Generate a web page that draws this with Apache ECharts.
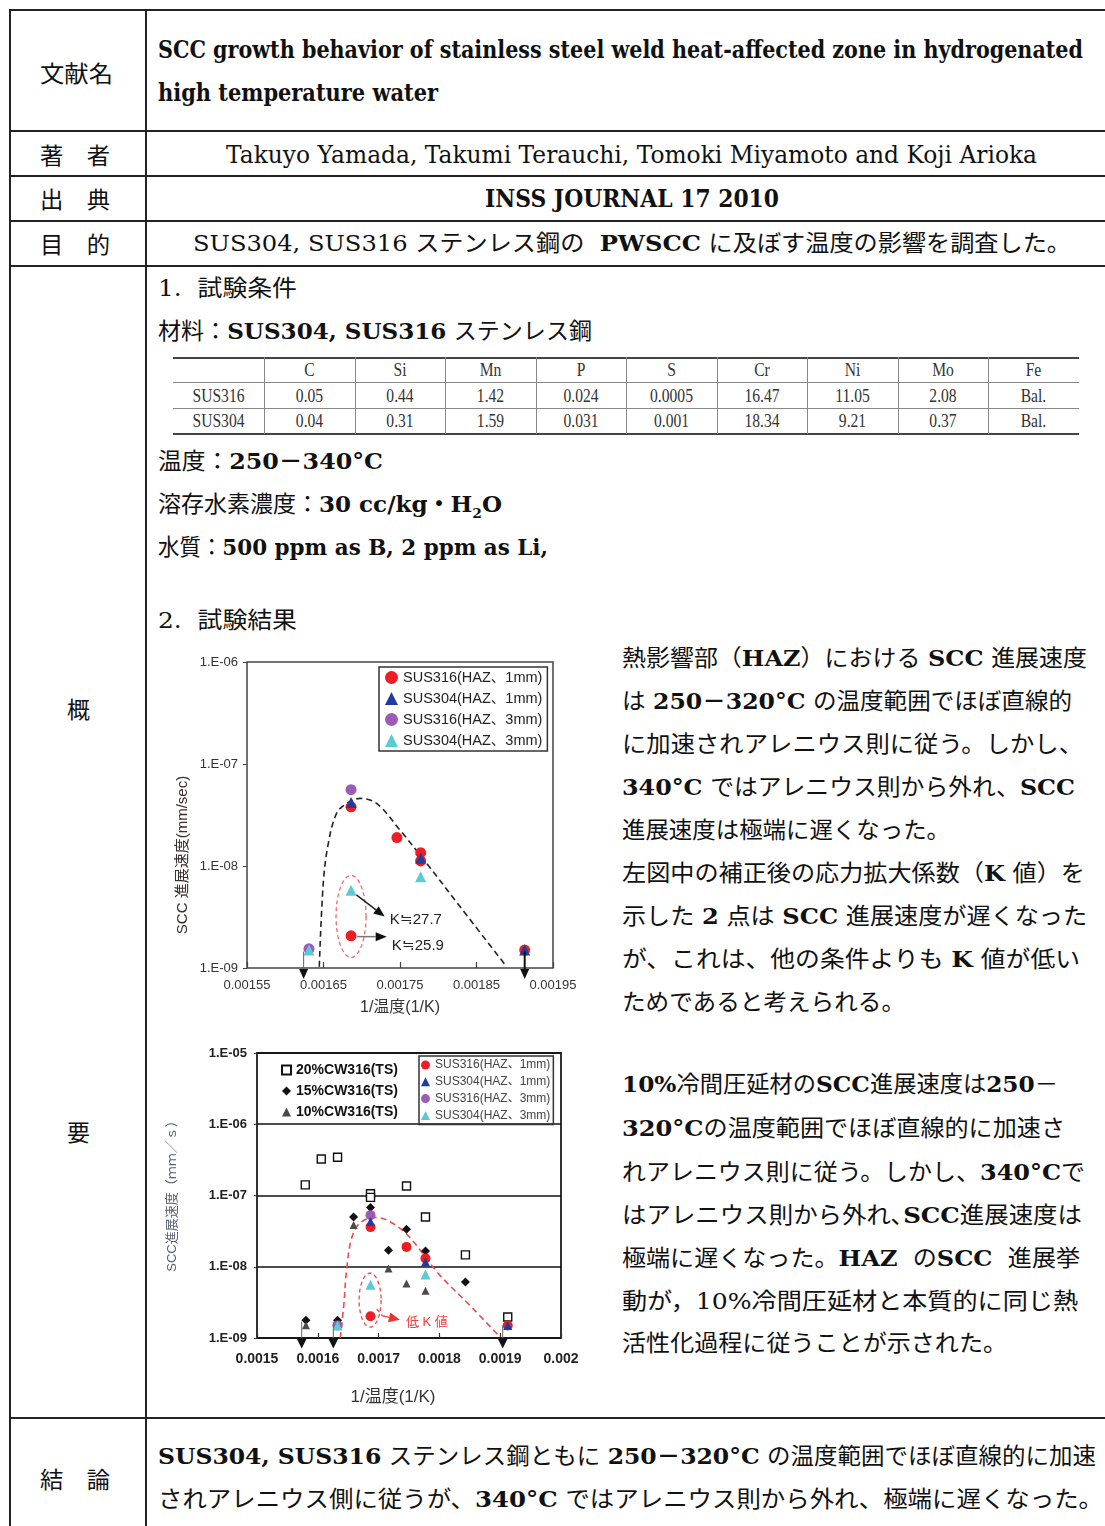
<!DOCTYPE html>
<html>
<head>
<meta charset="utf-8">
<script src="https://cdn.jsdelivr.net/npm/echarts@6/dist/echarts.min.js"></script>
<style>
html,body{margin:0;padding:0;background:#fff;}
#page{position:relative;width:1105px;height:1526px;overflow:hidden;background:#fff;
  font-family:"DejaVu Serif","Liberation Serif","Noto Sans CJK JP",serif;color:#111;}
.hl{position:absolute;height:2px;background:#222;}
.vl{position:absolute;width:2px;background:#222;}
.t{position:absolute;white-space:nowrap;transform-origin:0 50%;}
.t b{font-weight:bold;}
.cell{position:absolute;text-align:center;font-family:"Liberation Serif",serif;font-size:19px;color:#333;line-height:20px;}
.chart{position:absolute;}
</style>
</head>
<body>
<div id="page">
  <div id="c1" class="chart" style="left:160px;top:640px;width:430px;height:390px;"></div>
  <div id="c2" class="chart" style="left:155px;top:1040px;width:440px;height:375px;"></div>
</div>
<script>
// ---------- composition table ----------
const elementNames = ['C', 'Si', 'Mn', 'P', 'S', 'Cr', 'Ni', 'Mo', 'Fe'];
const gradeNames = ['SUS316', 'SUS304'];
const comp316 = ['0.05', '0.44', '1.42', '0.024', '0.0005', '16.47', '11.05', '2.08', 'Bal.'];
const comp304 = ['0.04', '0.31', '1.59', '0.031', '0.001', '18.34', '9.21', '0.37', 'Bal.'];

// ---------- figure 1 : HAZ specimens (1/T in 1/K, growth rate in mm/s) ----------
const f1InvT316_1mm = [0.001686, 0.001746, 0.001777, 0.001777, 0.001686, 0.001913];
const f1Rate316_1mm = [3.8e-8, 1.9e-8, 1.35e-8, 1.12e-8, 2.07e-9, 1.5e-9];
const f1InvT304_1mm = [0.001686, 0.001777, 0.001913];
const f1Rate304_1mm = [4.2e-8, 1.19e-8, 1.5e-9];
const f1InvT316_3mm = [0.001686, 0.001631];
const f1Rate316_3mm = [5.6e-8, 1.54e-9];
const f1InvT304_3mm = [0.001686, 0.001777, 0.001631];
const f1Rate304_3mm = [5.8e-9, 7.85e-9, 1.5e-9];
const f1TrendInvT = [0.0016445, 0.0016497, 0.0016563, 0.0016672, 0.0016803, 0.0016977, 0.0017195, 0.00175, 0.0017849, 0.0018284, 0.0018894];
const f1TrendRate = [1.03e-9, 6.8e-9, 1.67e-8, 3.3e-8, 4.1e-8, 4.6e-8, 4.1e-8, 2.25e-8, 1.06e-8, 4.0e-9, 1.03e-9];
// results below the detection limit: arrow from the point downwards
const f1DropX = [0.001624, 0.001913];
const f1DropFrom = [1.45e-9, 1.45e-9];
const f1DropTo = [7.8e-10, 7.8e-10];
// low stress-intensity points: ring and call-outs
const f1RingCenter = [0.001686, 3.2e-9];
const f1NoteText = ['K≒27.7', 'K≒25.9'];
const f1NoteFrom = [[0.001693, 5.2e-9], [0.001694, 2.03e-9]];
const f1NoteTo = [[0.00173, 3.2e-9], [0.0017326, 2.03e-9]];

// ---------- figure 2 : cold-worked 316 (TS) vs HAZ ----------
const cw20InvT = [0.0015794, 0.0016057, 0.0016325, 0.0016867, 0.0016867, 0.0017459, 0.0017771, 0.0018428, 0.0019124];
const cw20Rate = [1.41e-7, 3.26e-7, 3.44e-7, 1.06e-7, 9.4e-8, 1.36e-7, 5.0e-8, 1.47e-8, 1.97e-9];
const cw15InvT = [0.0015805, 0.0016325, 0.0016588, 0.0016867, 0.0017163, 0.0017459, 0.0017771, 0.0018428];
const cw15Rate = [1.77e-9, 1.77e-9, 5.0e-8, 6.8e-8, 1.71e-8, 3.35e-8, 1.67e-8, 6.1e-9];
const cw10InvT = [0.0015805, 0.0016588, 0.0017163, 0.0017459, 0.0017771];
const cw10Rate = [1.51e-9, 3.85e-8, 9.45e-9, 5.8e-9, 4.6e-9];
const f2InvT316_1mm = [0.0016867, 0.0017459, 0.0017771, 0.0016867, 0.0019124];
const f2Rate316_1mm = [3.6e-8, 1.9e-8, 1.31e-8, 2.02e-9, 1.5e-9];
const f2InvT304_1mm = [0.0016867, 0.0017771, 0.0019124];
const f2Rate304_1mm = [4.3e-8, 1.17e-8, 1.5e-9];
const f2InvT316_3mm = [0.0016867, 0.0016325];
const f2Rate316_3mm = [5.3e-8, 1.5e-9];
const f2InvT304_3mm = [0.0016867, 0.0017771, 0.0016325];
const f2Rate304_3mm = [5.6e-9, 7.8e-9, 1.5e-9];
const f2TrendInvT = [0.0016369, 0.0016424, 0.0016479, 0.0016561, 0.0016698, 0.0016944, 0.0017163, 0.0017492, 0.0017985, 0.0018532, 0.0018998];
const f2TrendRate = [1.0e-9, 2.7e-9, 1.0e-8, 2.6e-8, 4.15e-8, 4.9e-8, 4.4e-8, 2.7e-8, 8.0e-9, 2.7e-9, 1.03e-9];
const f2DropX = [0.0015735, 0.0016255, 0.0019041];
const f2DropFrom = [1.7e-9, 1.7e-9, 1.5e-9];
const f2DropTo = [7.1e-10, 7.1e-10, 7.1e-10];
const f2RingCenter = [0.001686, 3.4e-9];
const f2NotePath = [[0.001697, 2.55e-9], [0.001706, 2.05e-9], [0.001735, 1.8e-9]];
const f2NoteText = '低 K 値';

// ---------- sheet frame ----------
const page = document.getElementById('page');
function addDiv(cls, css, html) {
  const d = document.createElement('div');
  d.className = cls;
  d.style.cssText = css;
  if (html != null) d.innerHTML = html;
  page.appendChild(d);
  return d;
}
[10, 131, 176, 221, 266, 1418].forEach(y => addDiv('hl', `left:10px;top:${y - 1}px;width:1100px;`));
addDiv('vl', 'left:9px;top:9px;height:1530px;');
addDiv('vl', 'left:145px;top:9px;height:1530px;');

// text lines: [html, left, centre y, width, font size]
const LH = 30;
const textLines = [
  ['文献名', 40, 74, 73, 23],
  ['著　者', 40, 156, 70, 23],
  ['出　典', 40, 200, 70, 23],
  ['目　的', 40, 245, 70, 23],
  ['概', 67, 710, null, 23],
  ['要', 67, 1133, null, 23],
  ['結　論', 40, 1480, 70, 23],
  ['<b>SCC growth behavior of stainless steel weld heat-affected zone in hydrogenated</b>', 158, 50, 925, 24],
  ['<b>high temperature water</b>', 158, 93, 280, 24],
  ['Takuyo Yamada, Takumi Terauchi, Tomoki Miyamoto and Koji Arioka', 226, 155, 811, 24],
  ['<b>INSS JOURNAL 17 2010</b>', 485, 199, 294, 24],
  ['SUS304, SUS316 ステンレス鋼の&nbsp; <b>PWSCC</b> に及ぼす温度の影響を調査した。', 193, 243, 878, 23],
  ['1.&nbsp;&nbsp;試験条件', 158, 288, 139, 23],
  ['材料：<b>SUS304, SUS316</b> ステンレス鋼', 158, 331, 434, 23],
  ['温度：<b>250－340°C</b>', 158, 461, 225, 23],
  ['溶存水素濃度：<b>30 cc/kg・H<sub style="font-size:60%">2</sub>O</b>', 158, 504, 344, 23],
  ['水質：<b>500 ppm as B, 2 ppm as Li,</b>', 158, 547, 390, 23],
  ['2.&nbsp;&nbsp;試験結果', 158, 620, 139, 23],
  ['熱影響部（<b>HAZ</b>）における <b>SCC</b> 進展速度', 622, 658, 465, 23],
  ['は <b>250－320°C</b> の温度範囲でほぼ直線的', 622, 701, 450, 23],
  ['に加速されアレニウス則に従う。しかし、', 622, 744, 461, 23],
  ['<b>340°C</b> ではアレニウス則から外れ、<b>SCC</b>', 622, 787, 453, 23],
  ['進展速度は極端に遅くなった。', 622, 830, 328, 23],
  ['左図中の補正後の応力拡大係数（<b>K</b> 値）を', 622, 873, 463, 23],
  ['示した <b>2</b> 点は <b>SCC</b> 進展速度が遅くなった', 622, 916, 465, 23],
  ['が、これは、他の条件よりも <b>K</b> 値が低い', 622, 959, 458, 23],
  ['ためであると考えられる。', 622, 1002, 283, 23],
  ['<b>10%</b>冷間圧延材の<b>SCC</b>進展速度は<b>250</b>－', 622, 1084, 436, 23],
  ['<b>320°C</b>の温度範囲でほぼ直線的に加速さ', 622, 1128, 443, 23],
  ['れアレニウス則に従う。しかし、<b>340°C</b>で', 622, 1172, 463, 23],
  ['はアレニウス則から外れ､<b>SCC</b>進展速度は', 622, 1215, 460, 23],
  ['極端に遅くなった。<b>HAZ</b>&nbsp; の<b>SCC</b>&nbsp; 進展挙', 622, 1258, 458, 23],
  ['動が，10%冷間圧延材と本質的に同じ熱', 622, 1301, 456, 23],
  ['活性化過程に従うことが示された。', 622, 1343, 385, 23],
  ['<b>SUS304, SUS316</b> ステンレス鋼ともに <b>250－320°C</b> の温度範囲でほぼ直線的に加速', 158, 1456, 938, 23],
  ['されアレニウス側に従うが、<b>340°C</b> ではアレニウス則から外れ、極端に遅くなった。', 158, 1499, 945, 23]
];
textLines.forEach(([html, x, cy, w, fs]) => {
  const d = addDiv('t', `left:${x}px;top:${cy - LH / 2}px;font-size:${fs}px;line-height:${LH}px;`, html);
  if (w) {
    const nat = d.getBoundingClientRect().width;
    if (nat > 0) d.style.transform = `scaleX(${w / nat})`;
  }
});

// composition table
const colX = [173, 264, 355, 445, 536, 626, 717, 807, 898, 988, 1079];
const rowCY = [370, 396, 421];
[[357, '#444', 1.5], [382, '#888', 1], [408, '#888', 1], [433, '#444', 1.5]].forEach(([y, c, h]) =>
  addDiv('', `position:absolute;left:173px;top:${y}px;width:906px;height:${h}px;background:${c};`));
colX.slice(1, -1).forEach(x =>
  addDiv('', `position:absolute;left:${x}px;top:357px;width:1px;height:77px;background:#888;`));
function cell(text, col, row) {
  const d = addDiv('cell', `left:${colX[col]}px;top:${rowCY[row] - 10}px;width:${colX[col + 1] - colX[col]}px;`, text);
  d.style.transform = 'scaleX(0.82)';
}
elementNames.forEach((t, i) => cell(t, i + 1, 0));
gradeNames.forEach((g, r) => cell(g, 0, r + 1));
comp316.forEach((t, i) => cell(t, i + 1, 1));
comp304.forEach((t, i) => cell(t, i + 1, 2));

// ---------- charts ----------
const SANS = '"Liberation Sans", Arial, "Noto Sans CJK JP", sans-serif';
const zip = (xs, ys) => xs.map((x, i) => [x, ys[i]]);
const expLabel = v => {
  const e = Math.round(Math.log10(v));
  return '1.E' + (e < 0 ? '-' : '+') + String(Math.abs(e)).padStart(2, '0');
};
const RED = '#ee1d24', BLUE = '#1f3c9e', PURPLE = '#9d5bb8', CYAN = '#5ccad3';

function arrow(p0, p1, lineColor, headColor, width, headL, headW, dash) {
  const dx = p1[0] - p0[0], dy = p1[1] - p0[1], L = Math.hypot(dx, dy);
  const ux = dx / L, uy = dy / L, nx = -uy, ny = ux;
  const bx = p1[0] - ux * headL, by = p1[1] - uy * headL;
  return [
    { type: 'line', z: 100, silent: true, shape: { x1: p0[0], y1: p0[1], x2: bx, y2: by },
      style: { stroke: lineColor, lineWidth: width, lineDash: dash || null } },
    { type: 'polygon', z: 100, silent: true,
      shape: { points: [[p1[0], p1[1]], [bx + nx * headW / 2, by + ny * headW / 2], [bx - nx * headW / 2, by - ny * headW / 2]] },
      style: { fill: headColor } }
  ];
}
function ring(c, rx, ry, color) {
  const pts = [];
  for (let i = 0; i < 72; i++) {
    const a = i / 72 * Math.PI * 2;
    pts.push([c[0] + rx * Math.cos(a), c[1] + ry * Math.sin(a)]);
  }
  return { type: 'polygon', z: 100, silent: true, shape: { points: pts },
    style: { fill: null, stroke: color, lineWidth: 1.3, lineDash: [4, 3] } };
}

// figure 1
const chart1 = echarts.init(document.getElementById('c1'));
chart1.setOption({
  animation: false,
  textStyle: { fontFamily: SANS },
  grid: { left: 87, top: 22, width: 306, height: 306, show: true, borderColor: '#444', borderWidth: 1.5 },
  xAxis: {
    type: 'value', min: 0.00155, max: 0.00195, interval: 0.0001,
    axisLine: { show: false }, splitLine: { show: false },
    axisTick: { inside: true, length: 6, lineStyle: { color: '#444', width: 1.2 } },
    axisLabel: { formatter: v => v.toFixed(5), fontSize: 13, color: '#333', margin: 11, fontFamily: SANS },
    name: '1/温度(1/K)', nameLocation: 'middle', nameGap: 32,
    nameTextStyle: { fontSize: 16, color: '#333', fontFamily: SANS }
  },
  yAxis: {
    type: 'log', logBase: 10, min: 1e-9, max: 1e-6,
    axisLine: { show: false }, splitLine: { show: false },
    axisTick: { length: 4, lineStyle: { color: '#444' } },
    axisLabel: { formatter: expLabel, fontSize: 13, color: '#333', margin: 9, fontFamily: SANS }
  },
  legend: {
    orient: 'vertical', left: 219, top: 27, padding: [3, 5, 3, 6], itemGap: 6,
    itemWidth: 13, itemHeight: 13, borderColor: '#333', borderWidth: 1.5, selectedMode: false,
    textStyle: { fontSize: 14.5, lineHeight: 15, color: '#222', fontFamily: SANS },
    data: ['SUS316(HAZ、1mm)', 'SUS304(HAZ、1mm)', 'SUS316(HAZ、3mm)', 'SUS304(HAZ、3mm)']
  },
  series: [
    { name: 'trend', type: 'line', data: zip(f1TrendInvT, f1TrendRate), smooth: 0.35, symbol: 'none',
      lineStyle: { color: '#222', width: 1.6, type: [6, 4] }, z: 1 },
    { name: 'SUS316(HAZ、1mm)', type: 'scatter', symbol: 'circle', symbolSize: 11, itemStyle: { color: RED, opacity: 1 },
      data: zip(f1InvT316_1mm, f1Rate316_1mm), z: 2 },
    { name: 'SUS304(HAZ、1mm)', type: 'scatter', symbol: 'triangle', symbolSize: 11, itemStyle: { color: BLUE, opacity: 1 },
      data: zip(f1InvT304_1mm, f1Rate304_1mm), z: 3 },
    { name: 'SUS316(HAZ、3mm)', type: 'scatter', symbol: 'circle', symbolSize: 11, itemStyle: { color: PURPLE, opacity: 1 },
      data: zip(f1InvT316_3mm, f1Rate316_3mm), z: 2 },
    { name: 'SUS304(HAZ、3mm)', type: 'scatter', symbol: 'triangle', symbolSize: 11, itemStyle: { color: CYAN, opacity: 1 },
      data: zip(f1InvT304_3mm, f1Rate304_3mm), z: 3 }
  ]
});
{
  const px = p => chart1.convertToPixel({ gridIndex: 0 }, p);
  const g = [];
  f1DropX.forEach((x, i) => {
    g.push(...arrow(px([x, f1DropFrom[i]]), px([x, f1DropTo[i]]), i === 0 ? '#666' : '#111', '#111', i === 0 ? 1 : 2, 10, 9));
  });
  g.push(ring(px(f1RingCenter), 15, 41, '#f06a6a'));
  f1NoteFrom.forEach((p, i) => {
    const a = px(p), b = px(f1NoteTo[i]);
    g.push(...arrow(a, b, i === 0 ? '#222' : '#777', '#111', 1.5, 11, 9));
    g.push({ type: 'text', z: 100, silent: true, x: b[0] + 5, y: b[1] + (i === 0 ? 3 : 9),
      style: { text: f1NoteText[i], fontSize: 15, fontFamily: SANS, fill: '#222', align: 'left', verticalAlign: 'middle' } });
  });
  g.push({ type: 'text', z: 100, silent: true, x: 23, y: 215, rotation: Math.PI / 2,
    style: { text: 'SCC 進展速度(mm/sec)', fontSize: 15, fontFamily: SANS, fill: '#3b2e2e', align: 'center', verticalAlign: 'middle' } });
  chart1.setOption({ graphic: g });
}

// figure 2
const chart2 = echarts.init(document.getElementById('c2'));
chart2.setOption({
  animation: false,
  textStyle: { fontFamily: SANS },
  grid: { left: 102, top: 13, width: 304, height: 285, show: true, borderColor: '#333', borderWidth: 2 },
  xAxis: {
    type: 'value', min: 0.0015, max: 0.002, interval: 0.0001,
    axisLine: { show: false }, splitLine: { show: false },
    axisTick: { inside: true, length: 5, lineStyle: { color: '#333', width: 1.2 } },
    axisLabel: { formatter: v => String(+v.toFixed(4)), fontSize: 14, fontWeight: 'bold', color: '#222', margin: 14, fontFamily: SANS }
  },
  yAxis: {
    type: 'log', logBase: 10, min: 1e-9, max: 1e-5,
    axisLine: { show: false },
    splitLine: { show: true, lineStyle: { color: '#111', width: 1.5 } },
    axisTick: { length: 3, lineStyle: { color: '#333' } },
    axisLabel: { formatter: expLabel, fontSize: 13, fontWeight: 'bold', color: '#222', margin: 10, fontFamily: SANS }
  },
  legend: [
    { orient: 'vertical', left: 126, top: 23, padding: 0, itemGap: 7, itemWidth: 9, itemHeight: 9, selectedMode: false,
      textStyle: { fontSize: 14, lineHeight: 14, fontWeight: 'bold', color: '#111', fontFamily: SANS },
      data: ['20%CW316(TS)', '15%CW316(TS)', '10%CW316(TS)'] },
    { orient: 'vertical', left: 264, top: 16, padding: [3, 3, 3, 2], itemGap: 4.8, itemWidth: 9, itemHeight: 9, selectedMode: false,
      borderColor: '#333', borderWidth: 1.5,
      textStyle: { fontSize: 12, lineHeight: 12, color: '#444', fontFamily: SANS },
      data: ['SUS316(HAZ、1mm)', 'SUS304(HAZ、1mm)', 'SUS316(HAZ、3mm)', 'SUS304(HAZ、3mm)'] }
  ],
  series: [
    { name: 'trend', type: 'line', data: zip(f2TrendInvT, f2TrendRate), smooth: 0.35, symbol: 'none',
      lineStyle: { color: '#f04a4a', width: 1.6, type: [6, 4] }, z: 1 },
    { name: '20%CW316(TS)', type: 'scatter', symbol: 'rect', symbolSize: 8,
      itemStyle: { color: '#fff', borderColor: '#111', borderWidth: 1.4, opacity: 1 }, data: zip(cw20InvT, cw20Rate), z: 2 },
    { name: '15%CW316(TS)', type: 'scatter', symbol: 'diamond', symbolSize: 9,
      itemStyle: { color: '#111', opacity: 1 }, data: zip(cw15InvT, cw15Rate), z: 2 },
    { name: '10%CW316(TS)', type: 'scatter', symbol: 'triangle', symbolSize: 8,
      itemStyle: { color: '#4a4a4a', opacity: 1 }, data: zip(cw10InvT, cw10Rate), z: 2 },
    { name: 'SUS316(HAZ、1mm)', type: 'scatter', symbol: 'circle', symbolSize: 10, itemStyle: { color: RED, opacity: 1 },
      data: zip(f2InvT316_1mm, f2Rate316_1mm), z: 3 },
    { name: 'SUS304(HAZ、1mm)', type: 'scatter', symbol: 'triangle', symbolSize: 9, itemStyle: { color: BLUE, opacity: 1 },
      data: zip(f2InvT304_1mm, f2Rate304_1mm), z: 4 },
    { name: 'SUS316(HAZ、3mm)', type: 'scatter', symbol: 'circle', symbolSize: 10, itemStyle: { color: PURPLE, opacity: 1 },
      data: zip(f2InvT316_3mm, f2Rate316_3mm), z: 3 },
    { name: 'SUS304(HAZ、3mm)', type: 'scatter', symbol: 'triangle', symbolSize: 10, itemStyle: { color: CYAN, opacity: 1 },
      data: zip(f2InvT304_3mm, f2Rate304_3mm), z: 4 }
  ]
});
{
  const px = p => chart2.convertToPixel({ gridIndex: 0 }, p);
  const g = [];
  f2DropX.forEach((x, i) => {
    g.push(...arrow(px([x, f2DropFrom[i]]), px([x, f2DropTo[i]]), '#666', '#111', 1, 10, 10));
  });
  g.push(ring(px(f2RingCenter), 11, 27, '#f04a4a'));
  const path = f2NotePath.map(px);
  g.push({ type: 'polyline', z: 100, silent: true, shape: { points: path.slice(0, 2) },
    style: { stroke: '#f04a4a', lineWidth: 1.4, lineDash: [4, 3] } });
  g.push(...arrow(path[1], path[2], '#f04a4a', '#f03030', 1.4, 11, 10));
  g.push({ type: 'text', z: 100, silent: true, x: path[2][0] + 6, y: path[2][1] + 3,
    style: { text: f2NoteText, fontSize: 13, fontFamily: SANS, fill: '#f04040', align: 'left', verticalAlign: 'middle' } });
  g.push({ type: 'text', z: 100, silent: true, x: 17, y: 153, rotation: Math.PI / 2,
    style: { text: 'SCC進展速度（ｍｍ／ｓ）', fontSize: 13, fontFamily: SANS, fill: '#5a6070', align: 'center', verticalAlign: 'middle' } });
  g.push({ type: 'text', z: 100, silent: true, x: 238, y: 357,
    style: { text: '1/温度(1/K)', fontSize: 17, fontFamily: SANS, fill: '#333', align: 'center', verticalAlign: 'middle' } });
  chart2.setOption({ graphic: g });
}
</script>
</body>
</html>
